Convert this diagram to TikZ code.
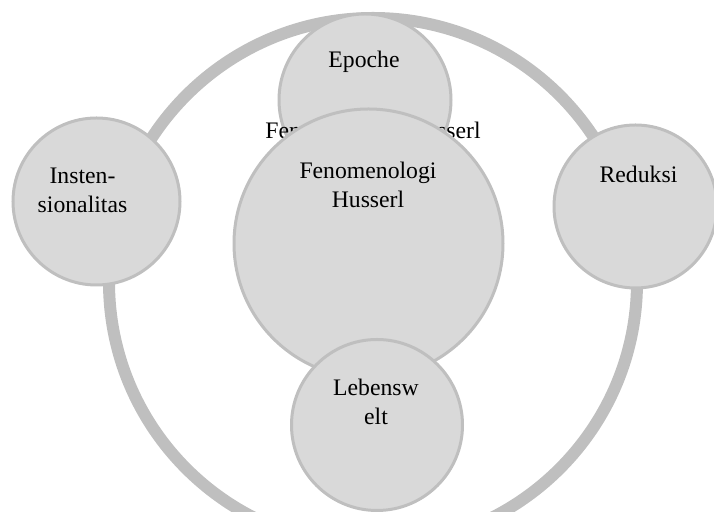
\documentclass[tikz,border=0pt]{standalone}
\usepackage{fontspec}
\setmainfont{Liberation Serif}

\definecolor{ringgray}{RGB}{191,191,191}
\definecolor{bubblegray}{RGB}{217,217,217}
\tikzset{
  bubble/.style={circle, draw=ringgray, fill=bubblegray, line width=1.5pt, inner sep=0pt},
  caption/.style={inner sep=0pt, anchor=north, align=center, font=\fontsize{11.85}{14.5}\selectfont},
}

\begin{document}
\begin{tikzpicture}[x=0.5pt, y=-0.5pt]
  \useasboundingbox (0,0) rectangle (714,512);
  % 外圈
  \node[circle, draw=ringgray, line width=6pt, minimum size=264pt, inner sep=0pt] (ring) at (373,282) {};
  \foreach \nm/\x/\y/\d in {insten/96.5/201.5/83.5, reduksi/635.5/206.5/81.5, epoche/365/100/86} {
    \node[bubble, minimum size=\d pt] (\nm) at (\x,\y) {};
  }
  \node[caption] (tstray) at (373,122) {Fenomenologi Husserl};
  % 中间的圆
  \node[bubble, minimum size=134.5pt] (fenom) at (368.5,243.5) {};
  \node[bubble, minimum size=85.5pt] (lebens) at (377,425) {};
  \node[caption] (tepoche) at (364,50.5) {Epoche};
  \node[caption] (tinsten) at (82.5,167.6) {Insten-\\sionalitas};
  \node[caption] (treduksi) at (638.5,165.5) {Reduksi};
  \node[caption] (tfenom) at (368,161.8) {Fenomenologi\\Husserl};
  \node[caption] (tlebens) at (376,378.8) {Lebensw\\elt};
\end{tikzpicture}
\end{document}
